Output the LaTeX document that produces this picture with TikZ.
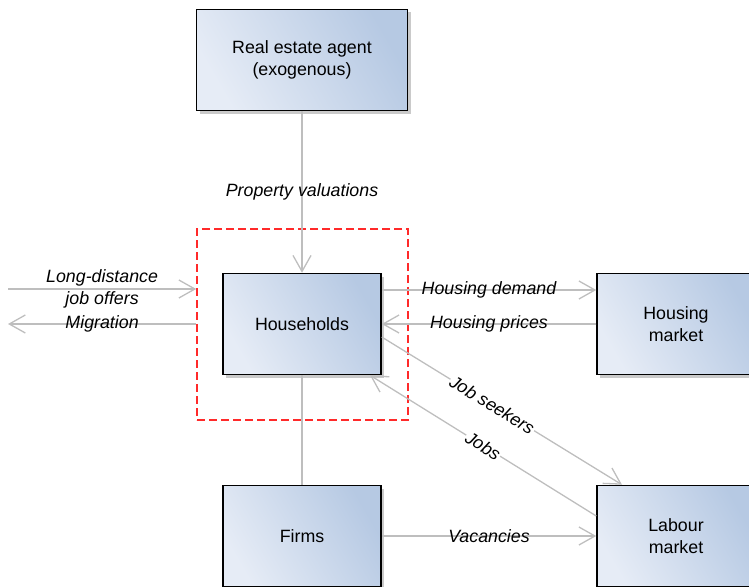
\documentclass[tikz,border=0pt]{standalone}
\usepackage{fontspec}
\setmainfont{Liberation Sans}
\usepackage{tikz}
\usetikzlibrary{arrows.meta, shadows}

\definecolor{boxlight}{HTML}{E6ECF6}
\definecolor{boxdark}{HTML}{B6C9E3}
\definecolor{flowgray}{HTML}{BEBEBE}
\definecolor{bordered}{HTML}{FF2A2A}

\begin{document}
\begin{tikzpicture}[x=1pt, y=-1pt,
    every node/.style={font=\fontsize{17.8}{22}\selectfont},
    agent/.style={draw=black, line width=1.5pt, minimum width=158pt, minimum height=101pt,
        align=center, left color=boxlight, right color=boxdark, shading angle=120,
        drop shadow={shadow xshift=3pt, shadow yshift=-3pt, opacity=0.35, fill=black!60}},
    flow/.style={draw=flowgray, line width=1.3pt, -{Straight Barb[length=16pt, width=18pt]}},
    link/.style={draw=flowgray, line width=1.3pt},
    flowlabel/.style={font=\fontsize{17.8}{22}\selectfont\itshape, align=center},
    slopelabel/.style={flowlabel, sloped, fill=white, inner sep=1pt}]

                  % Page
                  \useasboundingbox (0,0) rectangle (749,586);
                  \clip (0,0) rectangle (749,586);

                  % Define boxes
                  \node[agent, minimum width=211pt] (agent) at (302,60) {Real estate agent\\(exogenous)};
                  \node[agent] (households) at (302,324) {Households};
                  \node[agent] (firms) at (302,536) {Firms};
                  \node[agent] (housing) at (676,324) {Housing\\market};
                  \node[agent] (labour) at (676,536) {Labour\\market};

                  % Draw model boundary
                  \node[draw=bordered, line width=1.6pt, dash pattern=on 8pt off 4pt,
                        minimum width=211pt, minimum height=191pt] (boundary) at (302.5,324.5) {};

                  % Outside ends
                  \coordinate (offers) at (8,289);
                  \coordinate (migration) at (8,324);

                  % Draw flows
                  \draw[flow] (agent) -- node[flowlabel] {Property valuations} (households);
                  \draw[link] (households) -- (firms);
                  \draw[flow] (offers) -- node[flowlabel] {Long-distance\\job offers} (offers -| boundary.west);
                  \draw[flow] (migration -| boundary.west) -- node[flowlabel] {Migration} (migration);
                  \draw[flow] ([yshift=34pt]households.east) -- node[flowlabel] {Housing demand} ([yshift=34pt]housing.west);
                  \draw[flow] (housing) -- node[flowlabel] {Housing prices} (households);
                  \draw[flow] ([yshift=-13pt]households.east) -- node[slopelabel, pos=0.46] {Job seekers} ([xshift=-54pt]labour.north);
                  \draw[flow] ([yshift=20pt]labour.west) -- node[slopelabel, pos=0.5] {Jobs} ([xshift=68pt]households.south);
                  \draw[flow] (firms) -- node[flowlabel] {Vacancies} (labour);

\end{tikzpicture}
\end{document}
